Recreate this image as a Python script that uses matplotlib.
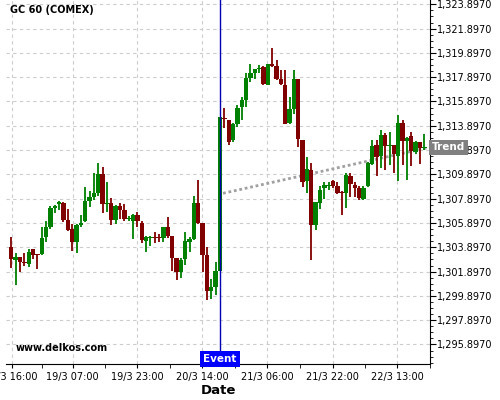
import numpy as np
import matplotlib
matplotlib.use("Agg")
import matplotlib.pyplot as plt
from matplotlib.ticker import MultipleLocator, FuncFormatter

# hourly candles
opens = [1303.92, 1302.88, 1303.10, 1302.69, 1302.53, 1303.76, 1303.35, 1303.35, 1304.77, 1305.54,
         1307.13, 1307.48, 1307.54, 1306.14, 1305.40, 1304.36, 1305.73, 1306.09, 1307.70, 1308.03,
         1308.36, 1309.92, 1307.50, 1307.54, 1306.17, 1307.32, 1306.97, 1306.25, 1306.09, 1306.55,
         1305.90, 1304.42, 1304.66, 1304.77, 1304.72, 1304.66, 1305.54, 1304.83, 1303.05, 1301.90,
         1302.91, 1304.33, 1304.61, 1307.57, 1305.90, 1303.24, 1300.31, 1300.61, 1301.98, 1314.55,
         1314.36, 1312.72, 1314.03, 1315.46, 1316.00, 1317.81, 1318.25, 1318.58, 1318.77, 1317.27,
         1318.96, 1318.78, 1317.72, 1317.27, 1314.09, 1315.24, 1317.73, 1312.72, 1309.38, 1310.25,
         1305.73, 1307.57, 1308.77, 1308.95, 1309.35, 1308.91, 1308.47, 1308.39, 1309.76, 1308.99,
         1308.75, 1307.84, 1308.94, 1310.77, 1312.28, 1311.40, 1313.10, 1312.25, 1312.28, 1311.40,
         1314.12, 1312.64, 1313.02, 1311.73, 1312.58, 1312.10]
highs = [1304.77, 1303.40, 1303.10, 1303.40, 1303.79, 1303.76, 1303.35, 1305.54, 1306.03, 1307.29,
         1307.35, 1307.73, 1307.60, 1307.02, 1305.81, 1305.81, 1306.53, 1308.83, 1308.55, 1309.98,
         1310.80, 1310.47, 1309.27, 1307.98, 1307.40, 1307.51, 1307.46, 1306.50, 1306.60, 1306.77,
         1306.09, 1304.83, 1304.83, 1305.18, 1304.96, 1305.56, 1306.42, 1304.83, 1303.05, 1303.05,
         1305.13, 1304.75, 1308.09, 1309.46, 1305.90, 1303.92, 1301.32, 1302.66, 1314.61, 1315.40,
         1314.36, 1314.10, 1315.57, 1316.28, 1318.28, 1319.02, 1318.61, 1318.94, 1318.85, 1318.96,
         1320.30, 1319.35, 1318.50, 1318.45, 1316.28, 1318.47, 1317.73, 1312.72, 1311.29, 1310.80,
         1307.62, 1308.94, 1309.27, 1309.27, 1309.40, 1309.27, 1308.50, 1309.98, 1309.98, 1309.30,
         1308.90, 1308.90, 1310.90, 1312.69, 1312.69, 1313.57, 1313.30, 1313.38, 1312.30, 1314.75,
         1314.34, 1312.95, 1313.38, 1312.65, 1312.60, 1313.18]
lows = [1302.17, 1300.77, 1301.84, 1302.36, 1302.31, 1302.97, 1302.09, 1303.24, 1304.33, 1305.37,
        1306.69, 1306.96, 1306.00, 1305.24, 1303.57, 1303.40, 1305.54, 1305.98, 1307.18, 1307.79,
        1308.09, 1306.69, 1306.77, 1305.70, 1305.81, 1306.22, 1306.09, 1306.09, 1304.61, 1305.59,
        1304.28, 1303.49, 1303.98, 1304.25, 1304.31, 1304.31, 1304.66, 1301.95, 1301.19, 1301.40,
        1302.44, 1303.49, 1304.47, 1305.84, 1301.84, 1299.54, 1299.62, 1299.95, 1301.98, 1313.68,
        1312.28, 1312.53, 1313.76, 1314.36, 1315.46, 1317.54, 1317.76, 1318.23, 1317.27, 1317.27,
        1318.75, 1317.70, 1317.24, 1314.03, 1314.03, 1314.86, 1312.15, 1308.85, 1308.40, 1302.86,
        1305.32, 1307.02, 1307.84, 1308.61, 1308.75, 1308.28, 1306.53, 1307.10, 1308.00, 1308.03,
        1307.76, 1307.76, 1308.86, 1310.70, 1309.73, 1310.44, 1310.28, 1310.64, 1310.00, 1309.32,
        1310.64, 1309.40, 1310.55, 1311.60, 1310.77, 1311.92]
closes = [1302.97, 1303.10, 1302.69, 1302.61, 1303.51, 1303.29, 1303.27, 1304.66, 1305.54, 1307.13,
          1307.29, 1307.62, 1306.14, 1305.35, 1304.36, 1305.73, 1305.90, 1307.70, 1308.03, 1308.36,
          1309.92, 1307.48, 1307.54, 1306.17, 1307.32, 1306.99, 1306.25, 1306.30, 1306.55, 1306.09,
          1304.53, 1304.72, 1304.72, 1304.66, 1304.66, 1305.54, 1304.83, 1303.05, 1301.90, 1302.86,
          1304.39, 1304.61, 1307.51, 1305.90, 1303.29, 1300.31, 1300.61, 1301.92, 1314.61, 1314.45,
          1312.58, 1314.03, 1315.32, 1316.00, 1317.79, 1318.23, 1318.61, 1318.69, 1317.35, 1318.96,
          1318.78, 1317.75, 1317.33, 1314.03, 1315.24, 1317.73, 1312.80, 1309.29, 1310.33, 1305.73,
          1307.62, 1308.61, 1308.99, 1309.00, 1308.91, 1308.39, 1308.39, 1309.84, 1309.13, 1308.75,
          1307.92, 1308.80, 1310.83, 1312.20, 1311.32, 1313.10, 1312.22, 1312.30, 1311.60, 1314.12,
          1312.64, 1312.91, 1311.81, 1312.58, 1312.03, 1312.14]

date_labels = ["18/3 16:00", "19/3 07:00", "19/3 23:00", "20/3 14:00",
               "21/3 06:00", "21/3 22:00", "22/3 13:00"]
event_idx = 48
trend_start = 1308.34
trend_end = 1312.13

opens = np.array(opens)
closes = np.array(closes)
highs = np.array(highs)
lows = np.array(lows)
x = np.arange(len(opens))

fig = plt.figure(figsize=(5, 4), dpi=100)
ax = fig.add_axes([0.012, 0.09, 0.848, 0.91])

up = closes >= opens
colors = np.where(up, "#008000", "#800000")

# trend line (behind candles)
x0, x1 = 48.7, 96.3
ax.plot([x0, x1], [trend_start, trend_end], color="#a0a0a0", lw=2,
        linestyle=(0, (1, 1)), zorder=2)

ax.vlines(x, lows, highs, colors=colors, lw=1.3, zorder=3)
bottoms = np.minimum(opens, closes)
heights = np.maximum(np.abs(closes - opens), 0.07)
ax.bar(x, heights, bottom=bottoms, width=1.0, color=colors, zorder=4, linewidth=0)

# event line
ax.axvline(event_idx, color="#0000b0", lw=1, zorder=5)

ax.set_xlim(-1.22, 96.3)
ax.set_ylim(1294.29, 1324.25)

tick_pos = [0.1, 14.1, 28.9, 43.9, 58.8, 73.9, 88.8]
ax.set_xticks(tick_pos)
ax.set_xticklabels(date_labels, fontsize=7)
mids = [(a + b) / 2 for a, b in zip(tick_pos[:-1], tick_pos[1:])] + [tick_pos[-1] + 7.45]
ax.set_xticks(mids, minor=True)

ax.yaxis.tick_right()
ax.yaxis.set_major_locator(MultipleLocator(2, offset=1295.897 % 2))
ax.yaxis.set_minor_locator(MultipleLocator(0.5, offset=1295.897 % 0.5))
ax.yaxis.set_major_formatter(FuncFormatter(lambda v, p: "{:,.4f}".format(v)))
ax.tick_params(axis="y", labelsize=7, length=4, pad=1)
ax.tick_params(axis="y", which="minor", length=2)
ax.tick_params(axis="x", which="both", length=3, pad=3)

ax.grid(True, which="major", color="#cccccc", linestyle=(0, (3, 3)), lw=0.8)
ax.set_axisbelow(True)

ax.spines["left"].set_visible(False)
ax.spines["top"].set_visible(False)

ax.set_xlabel("Date", fontsize=9.5, fontweight="bold", labelpad=1)

ax.text(0.01, 0.985, "GC 60 (COMEX)", transform=ax.transAxes, fontsize=7,
        fontweight="bold", va="top", ha="left")
ax.text(0.022, 0.03, "www.delkos.com", transform=ax.transAxes, fontsize=7,
        fontweight="bold", va="bottom", ha="left")

ax.text(event_idx, 1294.29, "Event", fontsize=7.5, fontweight="bold", color="white",
        ha="center", va="bottom", zorder=6,
        bbox=dict(boxstyle="square,pad=0.3", facecolor="#0000ff", edgecolor="none"))

ax.text(96.75, trend_end, "Trend", fontsize=7.5, fontweight="bold", color="white",
        ha="left", va="center", zorder=6, clip_on=False,
        bbox=dict(boxstyle="square,pad=0.25", facecolor="#808080", edgecolor="none"))

fig.savefig("out.png")
